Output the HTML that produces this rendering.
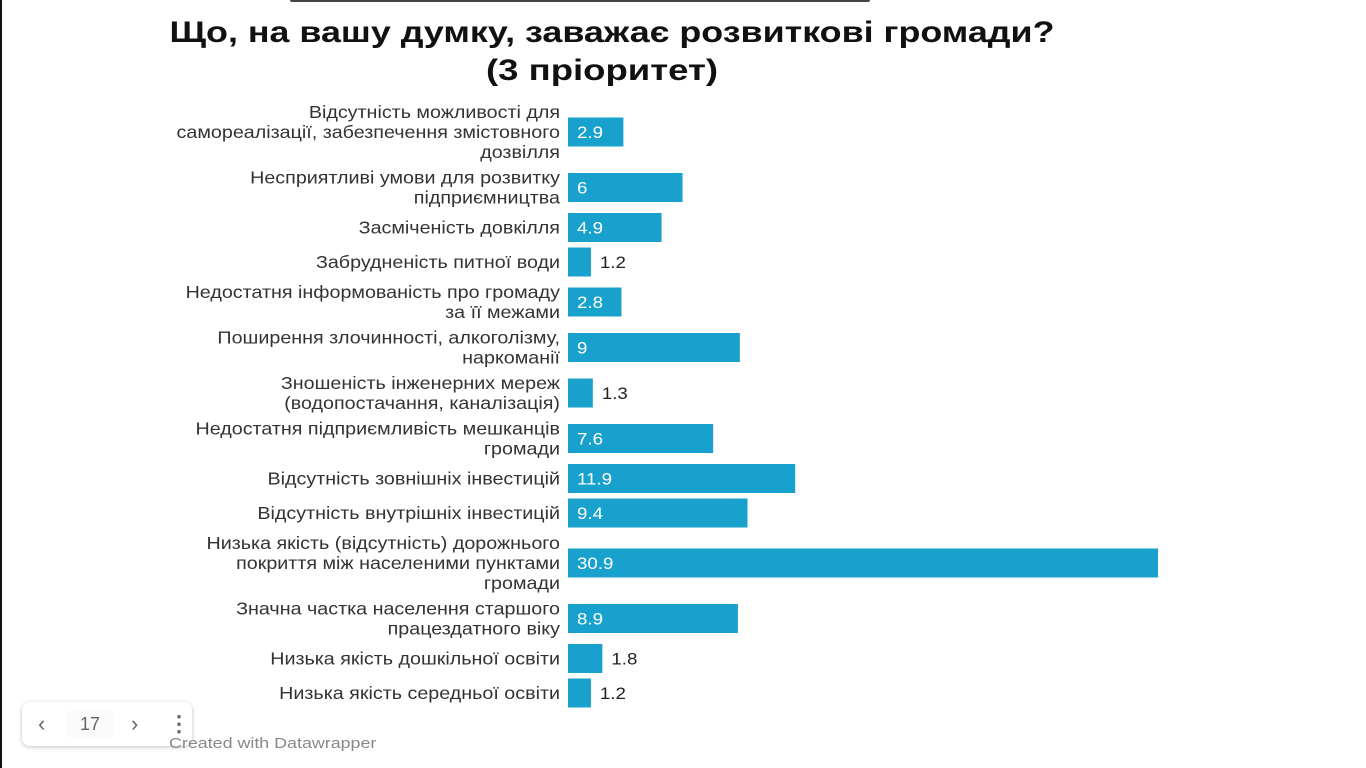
<!DOCTYPE html>
<html><head><meta charset="utf-8"><style>
html,body{margin:0;padding:0;background:#fff;}
body{width:1366px;height:768px;position:relative;overflow:hidden;font-family:"Liberation Sans",sans-serif;}
#frameL{position:absolute;left:0;top:0;width:2px;height:768px;background:#111;}
#topbar{position:absolute;left:290px;top:0;width:580px;height:2px;background:#444;border-radius:0 0 3px 3px;}
#nav{position:absolute;left:22px;top:702px;width:170px;height:44px;background:#fff;border-radius:8px;box-shadow:0 1px 4px rgba(0,0,0,0.25);}
#nav .b{position:absolute;top:9px;font-size:22px;color:#666;}
#pg{position:absolute;left:45px;top:8px;width:46px;height:28px;background:#fafafa;border-radius:6px;text-align:center;line-height:28px;font-size:18px;color:#666;}
#credit{position:absolute;left:169px;top:735px;font-size:15px;color:#888;transform:scaleX(1.19);transform-origin:0 0;}
</style></head><body>
<div id="frameL"></div>
<div id="topbar"></div>
<svg id="chart" width="1366" height="768" style="position:absolute;left:0;top:0">
<text x="612" y="42" text-anchor="middle" font-family="Liberation Sans, sans-serif" font-weight="bold" font-size="30" fill="#111" textLength="885" lengthAdjust="spacingAndGlyphs">Що, на вашу думку, заважає розвиткові громади?</text>
<text x="602" y="80" text-anchor="middle" font-family="Liberation Sans, sans-serif" font-weight="bold" font-size="30" fill="#111" textLength="232" lengthAdjust="spacingAndGlyphs">(3 пріоритет)</text>
<g id="bars"></g>
</svg>
<div id="nav">
<span class="b" style="left:16px">‹</span>
<div id="pg">17</div>
<span class="b" style="left:109px">›</span>
<span class="b" style="left:146px;font-weight:bold">⋮</span>
</div>
<div id="credit">Created with Datawrapper</div>
<script>
const categories=[
["Відсутність можливості для","самореалізації, забезпечення змістовного","дозвілля"],
["Несприятливі умови для розвитку","підприємництва"],
["Засміченість довкілля"],
["Забрудненість питної води"],
["Недостатня інформованість про громаду","за її межами"],
["Поширення злочинності, алкоголізму,","наркоманії"],
["Зношеність інженерних мереж","(водопостачання, каналізація)"],
["Недостатня підприємливість мешканців","громади"],
["Відсутність зовнішніх інвестицій"],
["Відсутність внутрішніх інвестицій"],
["Низька якість (відсутність) дорожнього","покриття між населеними пунктами","громади"],
["Значна частка населення старшого","працездатного віку"],
["Низька якість дошкільної освіти"],
["Низька якість середньої освіти"]];
const values=[2.9,6,4.9,1.2,2.8,9,1.3,7.6,11.9,9.4,30.9,8.9,1.8,1.2];
const labels=["2.9","6","4.9","1.2","2.8","9","1.3","7.6","11.9","9.4","30.9","8.9","1.8","1.2"];
const X0=568, PX=590/30.9;
function xScale(v){return X0+v*PX;}
const g=document.getElementById('bars');
const NS='http://www.w3.org/2000/svg';
let y=102;
categories.forEach((lines,i)=>{
  const rowH=Math.max(29,lines.length*20);
  const cy=y+rowH/2;
  const r=document.createElementNS(NS,'rect');
  
  
  r.setAttribute('x',X0);r.setAttribute('y',cy-14.5);
  r.setAttribute('width',xScale(values[i])-X0);r.setAttribute('height',29);
  r.setAttribute('fill','#18a1cd');g.appendChild(r);
  const w=xScale(values[i])-X0;
  const inside=w>40;
  const tx=inside?X0+9:xScale(values[i])+9;
  const t=document.createElementNS(NS,'text');
  
  
  t.setAttribute('x',tx);
  t.setAttribute('y',cy+6);
  t.setAttribute('transform','translate('+tx+' 0) scale(1.1 1) translate('+(-tx)+' 0)');
  t.setAttribute('font-size','17');t.setAttribute('font-family','Liberation Sans, sans-serif');
  t.setAttribute('fill',inside?'#fff':'#222');
  t.textContent=labels[i];g.appendChild(t);
  const lt=document.createElementNS(NS,'text');
  
  
  lt.setAttribute('text-anchor','end');lt.setAttribute('font-size','17.5');
  lt.setAttribute('transform','translate(560 0) scale(1.127 1) translate(-560 0)');
  lt.setAttribute('font-family','Liberation Sans, sans-serif');lt.setAttribute('fill','#333');
  const startY=cy-(lines.length-1)*10+6;
  lines.forEach((s,k)=>{const ts=document.createElementNS(NS,'tspan');ts.setAttribute('x',560);ts.setAttribute('y',startY+k*20);ts.textContent=s;lt.appendChild(ts);});
  g.appendChild(lt);
  y+=rowH+5.5;
});
</script>
</body></html>
